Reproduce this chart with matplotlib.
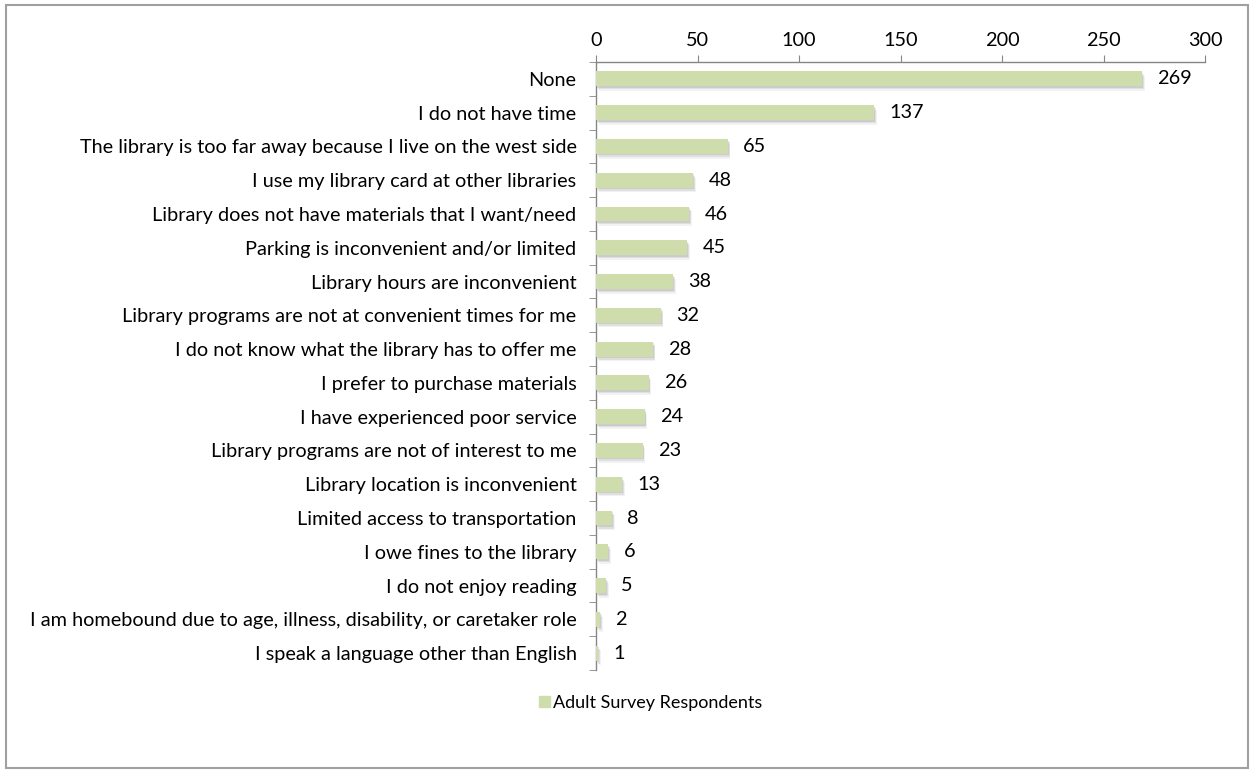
import matplotlib; matplotlib.use("Agg")
import matplotlib.pyplot as plt
from matplotlib.patches import Rectangle, Patch
import matplotlib.patheffects as pe
import numpy as np

reasons = [
    "None",
    "I do not have time",
    "The library is too far away because I live on the west side",
    "I use my library card at other libraries",
    "Library does not have materials that I want/need",
    "Parking is inconvenient and/or limited",
    "Library hours are inconvenient",
    "Library programs are not at convenient times for me",
    "I do not know what the library has to offer me",
    "I prefer to purchase materials",
    "I have experienced poor service",
    "Library programs are not of interest to me",
    "Library location is inconvenient",
    "Limited access to transportation",
    "I owe fines to the library",
    "I do not enjoy reading",
    "I am homebound due to age, illness, disability, or caretaker role",
    "I speak a language other than English",
]
counts = [269, 137, 65, 48, 46, 45, 38, 32, 28, 26, 24, 23, 13, 8, 6, 5, 2, 1]
xticks = [0, 50, 100, 150, 200, 250, 300]
series_name = "Adult Survey Respondents"

BAR = "#CFDCAB"; AXC = "#868686"; TXT = "#000000"
plt.rcParams["font.family"] = ["Lato", "DejaVu Sans"]
FS = 14.3

fig = plt.figure(figsize=(12.54, 7.73), dpi=100)
ax = fig.add_axes([0.4753, 0.1332, 0.961 - 0.4753, 0.9198 - 0.1332])

y = np.arange(len(reasons))
# bars with a soft, layered drop shadow underneath
shadow = [pe.SimplePatchShadow(offset=(1.8, -3.4), shadow_rgbFace="#9a9a9a", alpha=0.12),
          pe.SimplePatchShadow(offset=(1.2, -2.2), shadow_rgbFace="#8a8a8a", alpha=0.18),
          pe.SimplePatchShadow(offset=(0.6, -1.1), shadow_rgbFace="#808080", alpha=0.2),
          pe.Normal()]
ax.barh(y, counts, height=0.44, color=BAR, zorder=3, path_effects=shadow)
for yi, v in zip(y, counts):
    ax.text(v + 7.5, yi, str(v), va="center", ha="left", fontsize=FS, color=TXT)

ax.set_xlim(0, 300)
ax.set_ylim(len(reasons) - 0.5, -0.5)
ax.xaxis.tick_top()
ax.set_xticks(xticks)
ax.set_yticks(y)
ax.set_yticklabels(reasons, fontsize=FS, color=TXT)
ax.set_yticks(np.arange(len(reasons) + 1) - 0.5, minor=True)
ax.tick_params(axis="y", which="major", length=0, pad=14)
ax.tick_params(axis="y", which="minor", length=5, color=AXC, direction="out")
ax.tick_params(axis="x", length=5, color=AXC, direction="out", labelsize=FS, pad=4)
for s in ("right", "bottom"):
    ax.spines[s].set_visible(False)
for s in ("top", "left"):
    ax.spines[s].set_color(AXC)
    ax.spines[s].set_linewidth(1.0)

fig.legend(handles=[Patch(color=BAR)], labels=[series_name], loc="center",
           bbox_to_anchor=(0.519, 0.0906), frameon=False, fontsize=13,
           handlelength=0.6, handleheight=0.6, handletextpad=0.2)

# outer chart frame
fig.add_artist(Rectangle((0.005, 0.007), 0.99, 0.986, transform=fig.transFigure,
                         fill=False, ec="#a0a0a0", lw=1.5))

plt.savefig("out.png", dpi=100, facecolor="white")
